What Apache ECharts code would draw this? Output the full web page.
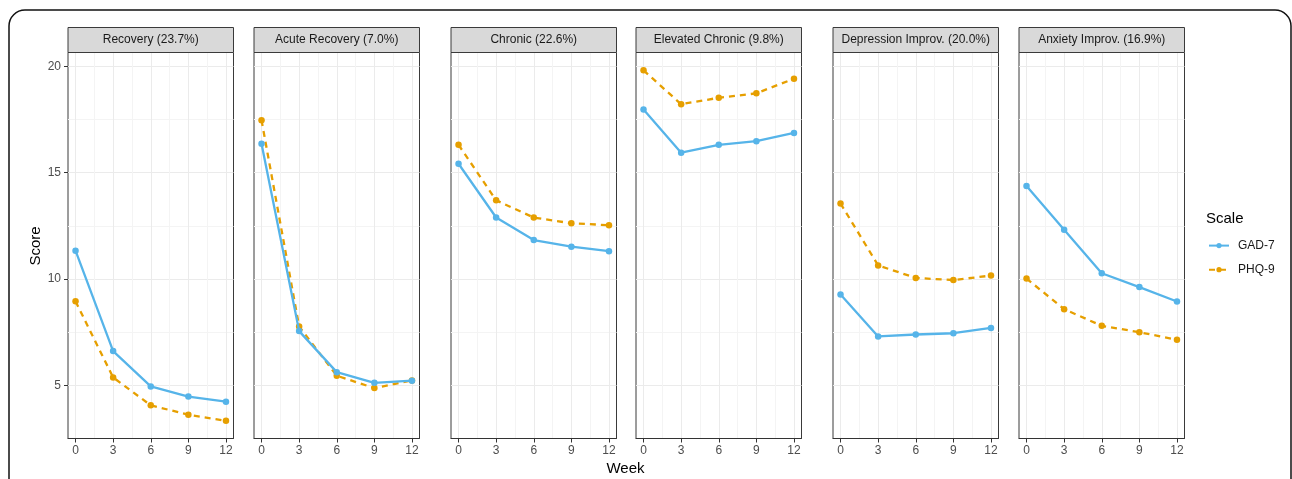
<!DOCTYPE html>
<html>
<head>
<meta charset="utf-8">
<title>GAD-7 and PHQ-9 trajectories</title>
<script src="https://cdn.jsdelivr.net/npm/echarts@6/dist/echarts.min.js"></script>
<style>
  html, body { margin: 0; padding: 0; background: #fff; }
  #chart { width: 1292px; height: 479px; }
</style>
</head>
<body>
<div id="chart"></div>
<script>
// ---------- data ----------
const weeks = [0, 3, 6, 9, 12];
const facetTitles = [
  'Recovery (23.7%)',
  'Acute Recovery (7.0%)',
  'Chronic (22.6%)',
  'Elevated Chronic (9.8%)',
  'Depression Improv. (20.0%)',
  'Anxiety Improv. (16.9%)'
];
const gadRecovery  = [11.33, 6.61, 4.95, 4.47, 4.23];
const phqRecovery  = [8.95, 5.37, 4.06, 3.62, 3.33];
const gadAcute     = [16.36, 7.55, 5.62, 5.12, 5.22];
const phqAcute     = [17.47, 7.77, 5.45, 4.87, 5.23];
const gadChronic   = [15.42, 12.89, 11.83, 11.52, 11.31];
const phqChronic   = [16.31, 13.70, 12.89, 12.62, 12.53];
const gadElevated  = [17.97, 15.94, 16.31, 16.48, 16.87];
const phqElevated  = [19.81, 18.22, 18.52, 18.73, 19.42];
const gadDepImprov = [9.27, 7.30, 7.39, 7.45, 7.70];
const phqDepImprov = [13.55, 10.64, 10.05, 9.95, 10.16];
const gadAnxImprov = [14.37, 12.31, 10.27, 9.62, 8.94];
const phqAnxImprov = [10.02, 8.58, 7.80, 7.50, 7.14];

const gadSeries = [gadRecovery, gadAcute, gadChronic, gadElevated, gadDepImprov, gadAnxImprov];
const phqSeries = [phqRecovery, phqAcute, phqChronic, phqElevated, phqDepImprov, phqAnxImprov];

const xTickLabels = [0, 3, 6, 9, 12];
const xGridValues = [0, 1.5, 3, 4.5, 6, 7.5, 9, 10.5, 12];
const yTickLabels = [5, 10, 15, 20];

// ---------- layout ----------
const FONT = '"Liberation Sans", Arial, Helvetica, sans-serif';
const panelLefts = [68, 254, 451, 636, 833, 1019];
const panelWidth = 165.5;
const panelTop = 52.5;
const panelHeight = 386;
const stripTop = 27.5;
const stripHeight = 25;
const xMin = -0.6, xMax = 12.6;
const yMin = 2.5, yMax = 20.65;
const GAD_COLOR = '#56B4E9';
const PHQ_COLOR = '#E69F00';
const MAJOR = '#EBEBEB', MINOR = '#F4F4F4';
const FRAME = '#3A3A3A';

const grids = [], xAxes = [], yAxes = [], series = [], graphics = [];

panelLefts.forEach((left, i) => {
  grids.push({
    left: left, top: panelTop, width: panelWidth, height: panelHeight,
    show: true, borderColor: FRAME, borderWidth: 1, backgroundColor: 'transparent'
  });
  // main x axis: grid lines only
  xAxes.push({
    type: 'value', gridIndex: i, min: xMin, max: xMax,
    axisLine: { show: false },
    axisTick: { show: false, customValues: xGridValues },
    axisLabel: { show: false },
    splitLine: { show: true, lineStyle: { color: [MAJOR, MINOR], width: 1 } }
  });
  // tick/label x axis
  xAxes.push({
    type: 'value', gridIndex: i, min: xMin, max: xMax, position: 'bottom',
    axisLine: { show: true, onZero: false, lineStyle: { color: '#333', width: 1 } },
    axisTick: { show: true, length: 4, customValues: xTickLabels, lineStyle: { color: '#333' } },
    axisLabel: { show: true, customValues: xTickLabels, color: '#4D4D4D', fontSize: 12, fontFamily: FONT, margin: 6 },
    splitLine: { show: false }
  });
  yAxes.push({
    type: 'value', gridIndex: i, min: yMin, max: yMax, interval: 2.5,
    axisLine: { show: false, onZero: false },
    axisTick: { show: false },
    axisLabel: { show: false },
    splitLine: { show: true, lineStyle: { color: [MINOR, MAJOR], width: 1 } }
  });

  series.push({
    name: 'PHQ-9', type: 'line', xAxisIndex: 2 * i, yAxisIndex: i,
    data: weeks.map((w, k) => [w, phqSeries[i][k]]),
    symbol: 'circle', symbolSize: 6.5, z: 2,
    itemStyle: { color: PHQ_COLOR },
    lineStyle: { color: PHQ_COLOR, width: 2.3, type: [6, 5] },
    emphasis: { disabled: true }, animation: false
  });
  series.push({
    name: 'GAD-7', type: 'line', xAxisIndex: 2 * i, yAxisIndex: i,
    data: weeks.map((w, k) => [w, gadSeries[i][k]]),
    symbol: 'circle', symbolSize: 6.5, z: 3,
    itemStyle: { color: GAD_COLOR },
    lineStyle: { color: GAD_COLOR, width: 2.3, type: 'solid' },
    emphasis: { disabled: true }, animation: false
  });

  // facet strip
  graphics.push({
    type: 'rect', z: 10,
    shape: { x: left, y: stripTop, width: panelWidth, height: stripHeight },
    style: { fill: '#D9D9D9', stroke: FRAME, lineWidth: 1 }
  });
  graphics.push({
    type: 'text', z: 11,
    x: left + panelWidth / 2, y: stripTop + stripHeight / 2,
    style: { text: facetTitles[i], fill: '#1A1A1A', font: '12px ' + FONT, textAlign: 'center', textVerticalAlign: 'middle' }
  });
});

// y labels/ticks on first panel
yAxes.push({
  type: 'value', gridIndex: 0, min: yMin, max: yMax, position: 'left',
  axisLine: { show: false, onZero: false },
  axisTick: { show: true, length: 4, customValues: yTickLabels, lineStyle: { color: '#333' } },
  axisLabel: { show: true, customValues: yTickLabels, color: '#4D4D4D', fontSize: 12, fontFamily: FONT, margin: 7 },
  splitLine: { show: false }
});

// axis titles, legend title, outer frame
graphics.push({
  type: 'text', x: 35.5, y: 246, rotation: Math.PI / 2,
  style: { text: 'Score', fill: '#000', font: '15px ' + FONT, textAlign: 'center', textVerticalAlign: 'middle' }
});
graphics.push({
  type: 'text', x: 625.5, y: 469,
  style: { text: 'Week', fill: '#000', font: '15px ' + FONT, textAlign: 'center', textVerticalAlign: 'middle' }
});
graphics.push({
  type: 'text', x: 1206, y: 219,
  style: { text: 'Scale', fill: '#000', font: '15px ' + FONT, textAlign: 'left', textVerticalAlign: 'middle' }
});
graphics.push({
  type: 'rect', z: 0,
  shape: { x: 9, y: 10, width: 1282, height: 530, r: 16 },
  style: { fill: 'none', stroke: '#111', lineWidth: 1.5 }
});

const chart = echarts.init(document.getElementById('chart'), null, { renderer: 'canvas' });
chart.setOption({
  animation: false,
  backgroundColor: '#fff',
  textStyle: { fontFamily: FONT },
  grid: grids,
  xAxis: xAxes,
  yAxis: yAxes,
  series: series,
  graphic: graphics,
  legend: {
    data: ['GAD-7', 'PHQ-9'],
    orient: 'vertical',
    left: 1203, top: 234.6,
    itemWidth: 20, itemHeight: 6.5, itemGap: 12.1,
    selectedMode: false,
    textStyle: { color: '#1A1A1A', fontSize: 12, fontFamily: FONT, padding: [0, 0, 0, 4] }
  }
});
</script>
</body>
</html>
